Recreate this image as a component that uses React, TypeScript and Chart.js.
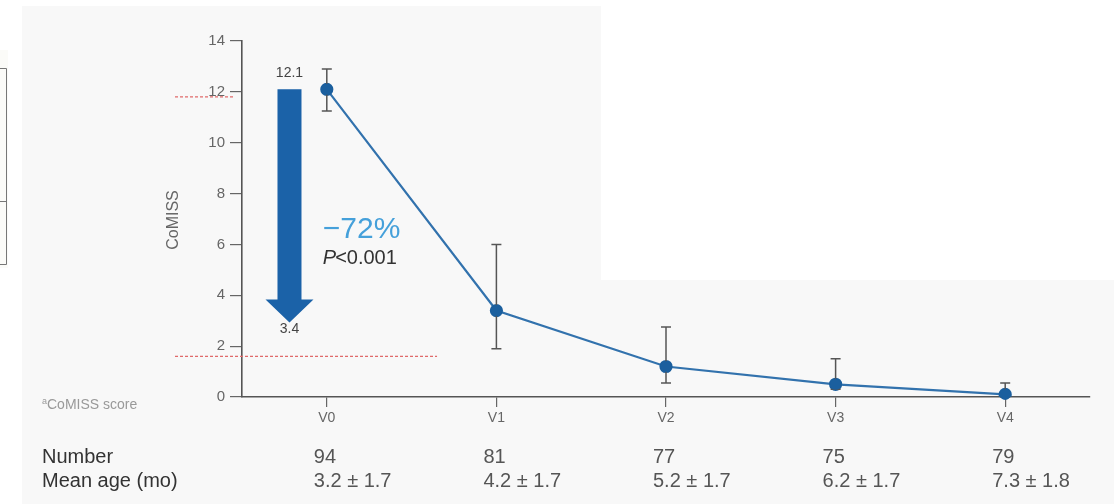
import React, { useEffect, useRef } from "react";
import { Chart, registerables } from "chart.js";

Chart.register(...registerables);

const categories = ["V0", "V1", "V2", "V3", "V4"];
const meanScores = [12.1, 3.4, 1.2, 0.5, 0.1];
const errorUpper = [12.9, 6.0, 2.75, 1.5, 0.55];
const errorLower = [11.25, 1.9, 0.55, 0.3, 0.0];
const numbers = ["94", "81", "77", "75", "79"];
const meanAges = ["3.2 ± 1.7", "4.2 ± 1.7", "5.2 ± 1.7", "6.2 ± 1.7", "7.3 ± 1.8"];
const yMin = 0;
const yMax = 14;
const yStep = 2;
const arrowStart = 12.1;
const arrowEnd = 3.4;
const upperRefLine = 11.8;
const lowerRefLine = 1.6;
const changeLabel = "−72%";
const pLabel = "<0.001";

const FONT = "'Liberation Sans', Arial, Helvetica, sans-serif";

const backgroundPlugin = {
  id: "bg",
  beforeDraw(chart: any) {
    const { ctx, width, height } = chart;
    ctx.save();
    ctx.fillStyle = "#ffffff";
    ctx.fillRect(0, 0, width, height);
    ctx.fillStyle = "#f8f8f8";
    ctx.fillRect(22, 6, width - 22, height - 6);
    ctx.fillStyle = "#ffffff";
    ctx.fillRect(601, 6, width - 601, 274);
    // cut-off box at the left edge
    ctx.fillStyle = "#fbfbf8";
    ctx.fillRect(0, 50, 8, 218);
    ctx.strokeStyle = "#777";
    ctx.lineWidth = 1;
    ctx.beginPath();
    ctx.moveTo(0, 68.5);
    ctx.lineTo(6.5, 68.5);
    ctx.lineTo(6.5, 264.5);
    ctx.lineTo(0, 264.5);
    ctx.moveTo(0, 201.5);
    ctx.lineTo(6.5, 201.5);
    ctx.stroke();
    ctx.restore();
  },
};

const annotationPlugin = {
  id: "annot",
  beforeDatasetsDraw(chart: any) {
    const { ctx, chartArea } = chart;
    const x = chart.scales.x;
    const y = chart.scales.y;
    const spacing = x.getPixelForValue(1) - x.getPixelForValue(0);
    ctx.save();
    // red dashed reference lines
    ctx.strokeStyle = "#e06a6a";
    ctx.lineWidth = 1.2;
    ctx.setLineDash([3, 2]);
    const yu = y.getPixelForValue(upperRefLine);
    ctx.beginPath();
    ctx.moveTo(chartArea.left - 67, yu);
    ctx.lineTo(chartArea.left - 8, yu);
    ctx.stroke();
    const yl = y.getPixelForValue(lowerRefLine);
    ctx.beginPath();
    ctx.moveTo(chartArea.left - 67, yl);
    ctx.lineTo(x.getPixelForValue(0) + 0.65 * spacing, yl);
    ctx.stroke();
    ctx.setLineDash([]);

    // big arrow
    const ax = x.getPixelForValue(0) - 0.22 * spacing;
    const yTop = y.getPixelForValue(arrowStart);
    const yTip = y.getPixelForValue(arrowEnd) + 12;
    const headLen = 23;
    const shaftHalf = 12;
    const headHalf = 24;
    ctx.fillStyle = "#1b62a8";
    ctx.beginPath();
    ctx.moveTo(ax - shaftHalf, yTop);
    ctx.lineTo(ax + shaftHalf, yTop);
    ctx.lineTo(ax + shaftHalf, yTip - headLen);
    ctx.lineTo(ax + headHalf, yTip - headLen);
    ctx.lineTo(ax, yTip);
    ctx.lineTo(ax - headHalf, yTip - headLen);
    ctx.lineTo(ax - shaftHalf, yTip - headLen);
    ctx.closePath();
    ctx.fill();

    ctx.fillStyle = "#444";
    ctx.font = `14px ${FONT}`;
    ctx.textAlign = "center";
    ctx.textBaseline = "middle";
    ctx.fillText(String(arrowStart), ax, yTop - 16);
    ctx.fillText(String(arrowEnd), ax, yTip + 7);

    // change annotation
    const tx = x.getPixelForValue(0) - 4;
    ctx.textAlign = "left";
    ctx.textBaseline = "alphabetic";
    ctx.fillStyle = "#45a0da";
    ctx.font = `30px ${FONT}`;
    ctx.fillText(changeLabel, tx, 238);
    ctx.fillStyle = "#333";
    ctx.font = `italic 20px ${FONT}`;
    ctx.fillText("P", tx, 264);
    const pw = ctx.measureText("P").width;
    ctx.font = `20px ${FONT}`;
    ctx.fillText(pLabel, tx + pw - 1, 264);

    // y axis title
    ctx.save();
    ctx.translate(174, (chartArea.top + chartArea.bottom) / 2 + 1);
    ctx.rotate(-Math.PI / 2);
    ctx.textAlign = "center";
    ctx.textBaseline = "middle";
    ctx.fillStyle = "#666";
    ctx.font = `16px ${FONT}`;
    ctx.fillText("CoMISS", 0, 0);
    ctx.restore();

    // footnote
    ctx.fillStyle = "#999";
    ctx.font = `9px ${FONT}`;
    ctx.textBaseline = "alphabetic";
    ctx.fillText("a", 42, 404);
    ctx.font = `14px ${FONT}`;
    ctx.fillText("CoMISS score", 47, 409);

    // table rows
    ctx.fillStyle = "#333";
    ctx.font = `20px ${FONT}`;
    ctx.textBaseline = "middle";
    ctx.fillText("Number", 42, 457);
    ctx.fillText("Mean age (mo)", 42, 481);
    ctx.fillStyle = "#555";
    categories.forEach((_, i) => {
      const cx = x.getPixelForValue(i) - 13;
      ctx.fillText(numbers[i], cx, 457);
      ctx.fillText(meanAges[i], cx, 481);
    });
    ctx.restore();
  },
  afterDatasetsDraw(chart: any) {
    const { ctx } = chart;
    const x = chart.scales.x;
    const y = chart.scales.y;
    ctx.save();
    ctx.strokeStyle = "#555";
    ctx.lineWidth = 1.5;
    categories.forEach((_, i) => {
      const px = x.getPixelForValue(i);
      const top = y.getPixelForValue(errorUpper[i]);
      const bot = y.getPixelForValue(errorLower[i]);
      ctx.beginPath();
      ctx.moveTo(px, top);
      ctx.lineTo(px, bot);
      ctx.moveTo(px - 5, top);
      ctx.lineTo(px + 5, top);
      ctx.moveTo(px - 5, bot);
      ctx.lineTo(px + 5, bot);
      ctx.stroke();
    });
    // redraw points on top of error bars
    ctx.fillStyle = "#1b5f9e";
    categories.forEach((_, i) => {
      ctx.beginPath();
      ctx.arc(x.getPixelForValue(i), y.getPixelForValue(meanScores[i]), 5.5, 0, Math.PI * 2);
      ctx.fill();
    });
    ctx.restore();
  },
};

export default function App() {
  const ref = useRef<HTMLCanvasElement>(null);
  useEffect(() => {
    if (!ref.current) return;
    const chart = new Chart(ref.current, {
      type: "line",
      data: {
        labels: categories,
        datasets: [
          {
            label: "CoMISS",
            data: meanScores,
            borderColor: "#3272ad",
            borderWidth: 2.2,
            pointRadius: 5.5,
            pointBackgroundColor: "#1b5f9e",
            pointBorderColor: "#1b5f9e",
            tension: 0,
          },
        ],
      },
      options: {
        responsive: false,
        animation: false,
        devicePixelRatio: 1,
        layout: { padding: { top: 41, right: 24, left: 0, bottom: 0 } },
        plugins: { legend: { display: false }, tooltip: { enabled: false } },
        scales: {
          x: {
            offset: true,
            grid: {
              display: true,
              drawOnChartArea: false,
              drawTicks: true,
              tickLength: 10,
              color: "#666",
              lineWidth: 1.2,
            },
            border: { display: true, color: "#555", width: 1.6 },
            ticks: { color: "#666", font: { size: 14, family: FONT }, padding: 3 },
            afterFit: (s: any) => {
              s.height = 107;
            },
          },
          y: {
            min: yMin,
            max: yMax,
            ticks: { stepSize: yStep, color: "#666", font: { size: 15, family: FONT }, padding: 5 },
            grid: {
              display: true,
              drawOnChartArea: false,
              drawTicks: true,
              tickLength: 12,
              color: "#666",
              lineWidth: 1.2,
            },
            border: { display: true, color: "#555", width: 1.6 },
            afterFit: (s: any) => {
              s.width = 242;
            },
          },
        },
      },
      plugins: [backgroundPlugin, annotationPlugin],
    });
    return () => chart.destroy();
  }, []);
  return (
    <div style={{ position: "fixed", left: 0, top: 0, width: 1114, height: 504 }}>
      <canvas ref={ref} width={1114} height={504} style={{ display: "block" }} />
    </div>
  );
}
